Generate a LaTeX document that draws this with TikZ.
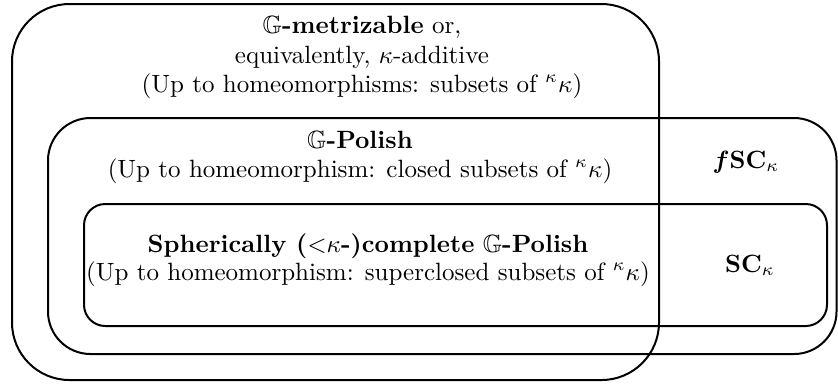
\documentclass[tikz,border=0pt]{standalone}
\usepackage{amsmath,amssymb}
\begin{document}
\begin{tikzpicture}[x=0.4pt,y=-0.4pt,
  box/.style={draw, line width=0.8pt},
  lbl/.style={inner sep=0pt, anchor=base}]
\useasboundingbox (0,0) rectangle (838,383);
% boxes
\draw[box, rounded corners=23pt] (12,4) rectangle (659,380);
\draw[box, rounded corners=17pt] (48,118) rectangle (836.5,354);
\draw[box, rounded corners=8.5pt] (84,204) rectangle (827,326);
% metrizable
\node[lbl] (m1) at (362,33) {$\mathbb{G}$\textbf{-metrizable} or,};
\node[lbl] (m2) at (362,63) {equivalently, $\kappa$-additive};
\node[lbl] (m3) at (362,92) {(Up to homeomorphisms: subsets of ${}^{\kappa}\kappa$)};
% Polish
\node[lbl] (p1) at (360,148) {$\mathbb{G}$\textbf{-Polish}};
\node[lbl] (p2) at (360,177) {(Up to homeomorphism: closed subsets of ${}^{\kappa}\kappa$)};
\node[lbl] (f) at (746,168) {$\boldsymbol{f}\mathbf{SC}_{\kappa}$};
% spherically complete
\node[lbl] (s1) at (368,252) {\textbf{Spherically (}${<}\kappa$\textbf{-)complete} $\mathbb{G}$\textbf{-Polish}};
\node[lbl] (s2) at (368,280) {(Up to homeomorphism: superclosed subsets of ${}^{\kappa}\kappa$)};
\node[lbl] (sc) at (750,272) {$\mathbf{SC}_{\kappa}$};
\end{tikzpicture}
\end{document}
